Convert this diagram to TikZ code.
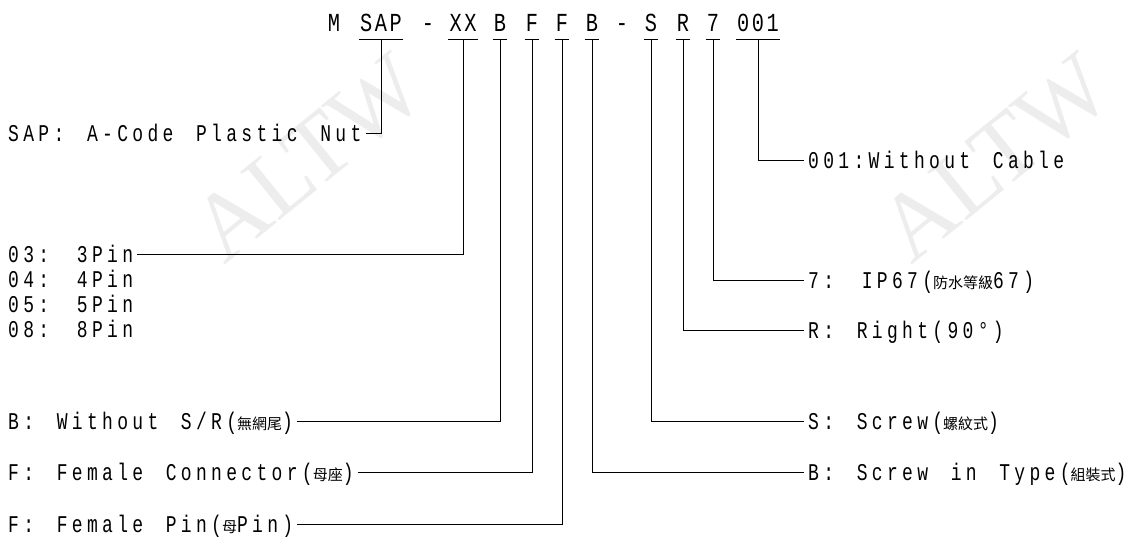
\documentclass[tikz,border=0pt]{standalone}
\usepackage{fontspec}
\newfontfamily\codefont[FakeStretch=0.78,LetterSpace=10]{Liberation Mono}
\newfontfamily\cadfont[FakeStretch=0.75,LetterSpace=18,WordSpace=1.5]{Liberation Mono}
\newfontfamily\cjk{Noto Sans CJK TC}
\newfontfamily\markfont{Liberation Serif}
\newcommand{\zh}[1]{{\cjk\fontsize{15}{15}\selectfont #1}}

\tikzset{
	code/.style = {font=\codefont\fontsize{26}{26}\selectfont, anchor=base, inner xsep=1pt, inner ysep=8pt, text depth=0pt},
	lbl/.style = {font=\cadfont\fontsize{24}{24}\selectfont, inner xsep=4pt, inner ysep=0pt, text height=16pt, text depth=0pt, anchor=west},
	wmark/.style = {font=\markfont\fontsize{95}{95}\selectfont, text=gray!14, rotate=39},
	link/.style = {draw=black, line width=0.8pt}
}

\begin{document}
\begin{tikzpicture}[x=1pt, y=-1pt]
	\useasboundingbox (0,0) rectangle (1146,549);
	
	% watermarks
	\node[wmark] (wmL) at (308,158) {ALTW};
	\node[wmark] (wmR) at (995,158) {ALTW};
	
	% part number
	\node[code] (m) at (334,31) {M};
	\node[code] (sap) at (381,31) {SAP};
	\node[code] (dashA) at (428,31) {-};
	\node[code] (xx) at (463,31) {XX};
	\node[code] (b1) at (500,31) {B};
	\node[code] (f1) at (532,31) {F};
	\node[code] (f2) at (562,31) {F};
	\node[code] (b2) at (592,31) {B};
	\node[code] (dashB) at (622,31) {-};
	\node[code] (s) at (651,31) {S};
	\node[code] (r) at (683,31) {R};
	\node[code] (seven) at (713,31) {7};
	\node[code] (nul) at (758,31) {001};
	
	\foreach \n in {sap,xx,b1,f1,f2,b2,s,r,seven,nul}
		\draw[link] (\n.south west) -- (\n.south east);
	
	% left side
	\node[lbl] (sapL) at (4,133) {SAP: A-Code Plastic Nut};
	\node[lbl] (pin3) at (4,254) {03: 3Pin};
	\node[lbl] (pin4) at (4,279) {04: 4Pin};
	\node[lbl] (pin5) at (4,304) {05: 5Pin};
	\node[lbl] (pin8) at (4,329) {08: 8Pin};
	\node[lbl] (bodyL) at (4,421) {B: Without S/R(\zh{無網尾})};
	\node[lbl] (connL) at (4,472) {F: Female Connector(\zh{母座})};
	\node[lbl] (pinL) at (4,524) {F: Female Pin(\zh{母}Pin)};
	
	% right side
	\node[lbl] (cableR) at (804,160) {001:Without Cable};
	\node[lbl] (ipR) at (804,280) {7: IP67(\zh{防水等級}67)};
	\node[lbl] (rightR) at (804,330) {R: Right(90°)};
	\node[lbl] (screwR) at (804,421) {S: Screw(\zh{螺紋式})};
	\node[lbl] (typeR) at (804,472) {B: Screw in Type(\zh{組裝式})};
	
	\draw[link] (sap.south) |- (sapL.east);
	\draw[link] (xx.south) |- (pin3.east);
	\draw[link] (b1.south) |- (bodyL.east);
	\draw[link] (f1.south) |- (connL.east);
	\draw[link] (f2.south) |- (pinL.east);
	\draw[link] (b2.south) |- (typeR.west);
	\draw[link] (s.south) |- (screwR.west);
	\draw[link] (r.south) |- (rightR.west);
	\draw[link] (seven.south) |- (ipR.west);
	\draw[link] (nul.south) |- (cableR.west);
	
\end{tikzpicture}
\end{document}
